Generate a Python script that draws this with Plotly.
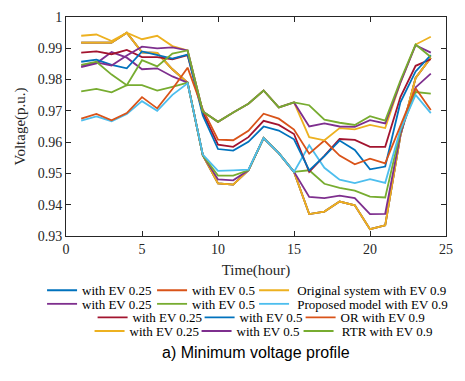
import plotly.graph_objects as go

hours = list(range(1, 25))

# Original system
orig_blue_025 = [0.9918, 0.9918, 0.9918, 0.9950, 0.9887, 0.9885, 0.9833, 0.9790, 0.9558, 0.9468, 0.9464, 0.9510,
                 0.9613, 0.9565, 0.9505, 0.9370, 0.9378, 0.9410, 0.9398, 0.9322, 0.9334, 0.9620, 0.9805, 0.9870]
orig_orange_05 = [0.9918, 0.9918, 0.9918, 0.9950, 0.9887, 0.9885, 0.9833, 0.9790, 0.9558, 0.9468, 0.9464, 0.9510,
                  0.9613, 0.9565, 0.9505, 0.9370, 0.9378, 0.9410, 0.9398, 0.9322, 0.9334, 0.9620, 0.9805, 0.9870]
orig_yellow_09 = [0.9918, 0.9918, 0.9918, 0.9950, 0.9887, 0.9885, 0.9833, 0.9790, 0.9558, 0.9468, 0.9464, 0.9510,
                  0.9613, 0.9565, 0.9505, 0.9370, 0.9378, 0.9410, 0.9398, 0.9322, 0.9334, 0.9620, 0.9805, 0.9870]
# Proposed model
prop_purple_025 = [0.9840, 0.9852, 0.9888, 0.9870, 0.9833, 0.9836, 0.9810, 0.9790, 0.9558, 0.9481, 0.9478, 0.9510,
                   0.9613, 0.9565, 0.9505, 0.9425, 0.9421, 0.9429, 0.9421, 0.9370, 0.9371, 0.9625, 0.9775, 0.9819]
prop_green_05 = [0.9762, 0.9770, 0.9759, 0.9782, 0.9782, 0.9765, 0.9777, 0.9790, 0.9558, 0.9493, 0.9493, 0.9510,
                 0.9613, 0.9565, 0.9505, 0.9510, 0.9467, 0.9454, 0.9445, 0.9426, 0.9423, 0.9635, 0.9760, 0.9755]
prop_lblue_09 = [0.9669, 0.9682, 0.9667, 0.9690, 0.9731, 0.9700, 0.9751, 0.9788, 0.9560, 0.9508, 0.9510, 0.9512,
                 0.9613, 0.9565, 0.9505, 0.9590, 0.9518, 0.9480, 0.9469, 0.9482, 0.9470, 0.9640, 0.9751, 0.9693]
# OR
or_red_025 = [0.9886, 0.9890, 0.9881, 0.9895, 0.9872, 0.9872, 0.9865, 0.9878, 0.9695, 0.9592, 0.9585, 0.9616,
              0.9668, 0.9655, 0.9626, 0.9505, 0.9556, 0.9610, 0.9607, 0.9585, 0.9585, 0.9744, 0.9844, 0.9865]
or_blue_05 = [0.9857, 0.9864, 0.9847, 0.9836, 0.9890, 0.9878, 0.9867, 0.9880, 0.9685, 0.9578, 0.9573, 0.9601,
              0.9650, 0.9637, 0.9609, 0.9510, 0.9555, 0.9605, 0.9575, 0.9513, 0.9522, 0.9727, 0.9826, 0.9878]
or_orange_09 = [0.9675, 0.9690, 0.9670, 0.9693, 0.9744, 0.9708, 0.9770, 0.9838, 0.9705, 0.9608, 0.9606, 0.9636,
                0.9691, 0.9675, 0.9640, 0.9563, 0.9605, 0.9557, 0.9529, 0.9547, 0.9532, 0.9655, 0.9772, 0.9703]
# RTR
rtr_yellow_025 = [0.9940, 0.9944, 0.9923, 0.9950, 0.9929, 0.9940, 0.9907, 0.9893, 0.9698, 0.9665, 0.9695, 0.9723,
                  0.9765, 0.9711, 0.9727, 0.9616, 0.9606, 0.9645, 0.9641, 0.9655, 0.9645, 0.9790, 0.9912, 0.9937]
rtr_purple_05 = [0.9842, 0.9855, 0.9845, 0.9877, 0.9905, 0.9900, 0.9903, 0.9893, 0.9698, 0.9665, 0.9695, 0.9723,
                 0.9765, 0.9711, 0.9727, 0.9650, 0.9660, 0.9650, 0.9649, 0.9670, 0.9660, 0.9790, 0.9910, 0.9886]
rtr_green_09 = [0.9847, 0.9857, 0.9816, 0.9782, 0.9862, 0.9842, 0.9883, 0.9893, 0.9698, 0.9665, 0.9695, 0.9723,
                0.9765, 0.9711, 0.9727, 0.9718, 0.9672, 0.9662, 0.9655, 0.9683, 0.9669, 0.9797, 0.9912, 0.9872]

names = ["with EV 0.25", "with EV 0.5", "\u00a0Original system with EV 0.9",
         "with EV 0.25", "with EV 0.5", "\u00a0Proposed model with EV 0.9",
         "with EV 0.25", "with EV 0.5", "OR with EV 0.9",
         "with EV 0.25", "with EV 0.5", "\u00a0RTR with EV 0.9"]
series = [orig_blue_025, orig_orange_05, orig_yellow_09,
          prop_purple_025, prop_green_05, prop_lblue_09,
          or_red_025, or_blue_05, or_orange_09,
          rtr_yellow_025, rtr_purple_05, rtr_green_09]

BLUE, ORANGE, YELLOW, PURPLE, GREEN, LBLUE, DRED = "#0072BD", "#D95319", "#EDB120", "#7E2F8E", "#77AC30", "#4DBEEE", "#A2142F"
colors = [BLUE, ORANGE, YELLOW, PURPLE, GREEN, LBLUE, DRED, BLUE, ORANGE, YELLOW, PURPLE, GREEN]
legends = ["legend"] * 3 + ["legend2"] * 3 + ["legend3"] * 3 + ["legend4"] * 3
entry_w = [65, 57, None, 65, 57, None, 62, 56, None, 62, 57, None]

fig = go.Figure()
for s, n, c, lg, ew in zip(series, names, colors, legends, entry_w):
    kw = dict(legendwidth=ew) if ew else {}
    fig.add_trace(go.Scatter(x=hours, y=s, mode="lines", name=n, legend=lg,
                             line=dict(color=c, width=1.8), **kw))

SERIF = "Liberation Serif"
axcol = "#262626"
common_axis = dict(showgrid=False, zeroline=False, showline=True, linecolor=axcol, linewidth=1,
                   mirror="ticks", ticks="inside", ticklen=5, tickcolor=axcol,
                   tickfont=dict(family=SERIF, size=14, color=axcol))

fig.update_xaxes(range=[0, 25], tickvals=[0, 5, 10, 15, 20, 25], **common_axis,
                 title=dict(text="Time(hour)", font=dict(family=SERIF, size=15, color=axcol), standoff=8))
fig.update_yaxes(range=[0.93, 1.0], tickvals=[0.93, 0.94, 0.95, 0.96, 0.97, 0.98, 0.99, 1.0],
                 ticktext=["0.93", "0.94", "0.95", "0.96", "0.97", "0.98", "0.99", "1"], **common_axis,
                 title=dict(text="Voltage(p.u.)", font=dict(family=SERIF, size=15, color=axcol), standoff=8))

leg_common = dict(orientation="h", xanchor="left", yanchor="middle", bgcolor="rgba(0,0,0,0)",
                  font=dict(family=SERIF, size=13, color="#000000"), itemwidth=30, tracegroupgap=0,
                  itemclick=False)
fig.update_layout(
    width=465, height=381,
    margin=dict(l=66, r=19, t=10, b=145),
    paper_bgcolor="white", plot_bgcolor="white",
    legend=dict(x=-0.063, y=-0.248, **leg_common),
    legend2=dict(x=-0.063, y=-0.310, **leg_common),
    legend3=dict(x=0.070, y=-0.372, **leg_common),
    legend4=dict(x=0.062, y=-0.434, **leg_common),
    annotations=[dict(text="a) Minimum voltage profile", xref="paper", yref="paper", x=0.5, y=-0.531,
                      showarrow=False, xanchor="center", yanchor="middle",
                      font=dict(family="Liberation Sans", size=16, color="#000000"))],
)

fig.write_html("out.html")
